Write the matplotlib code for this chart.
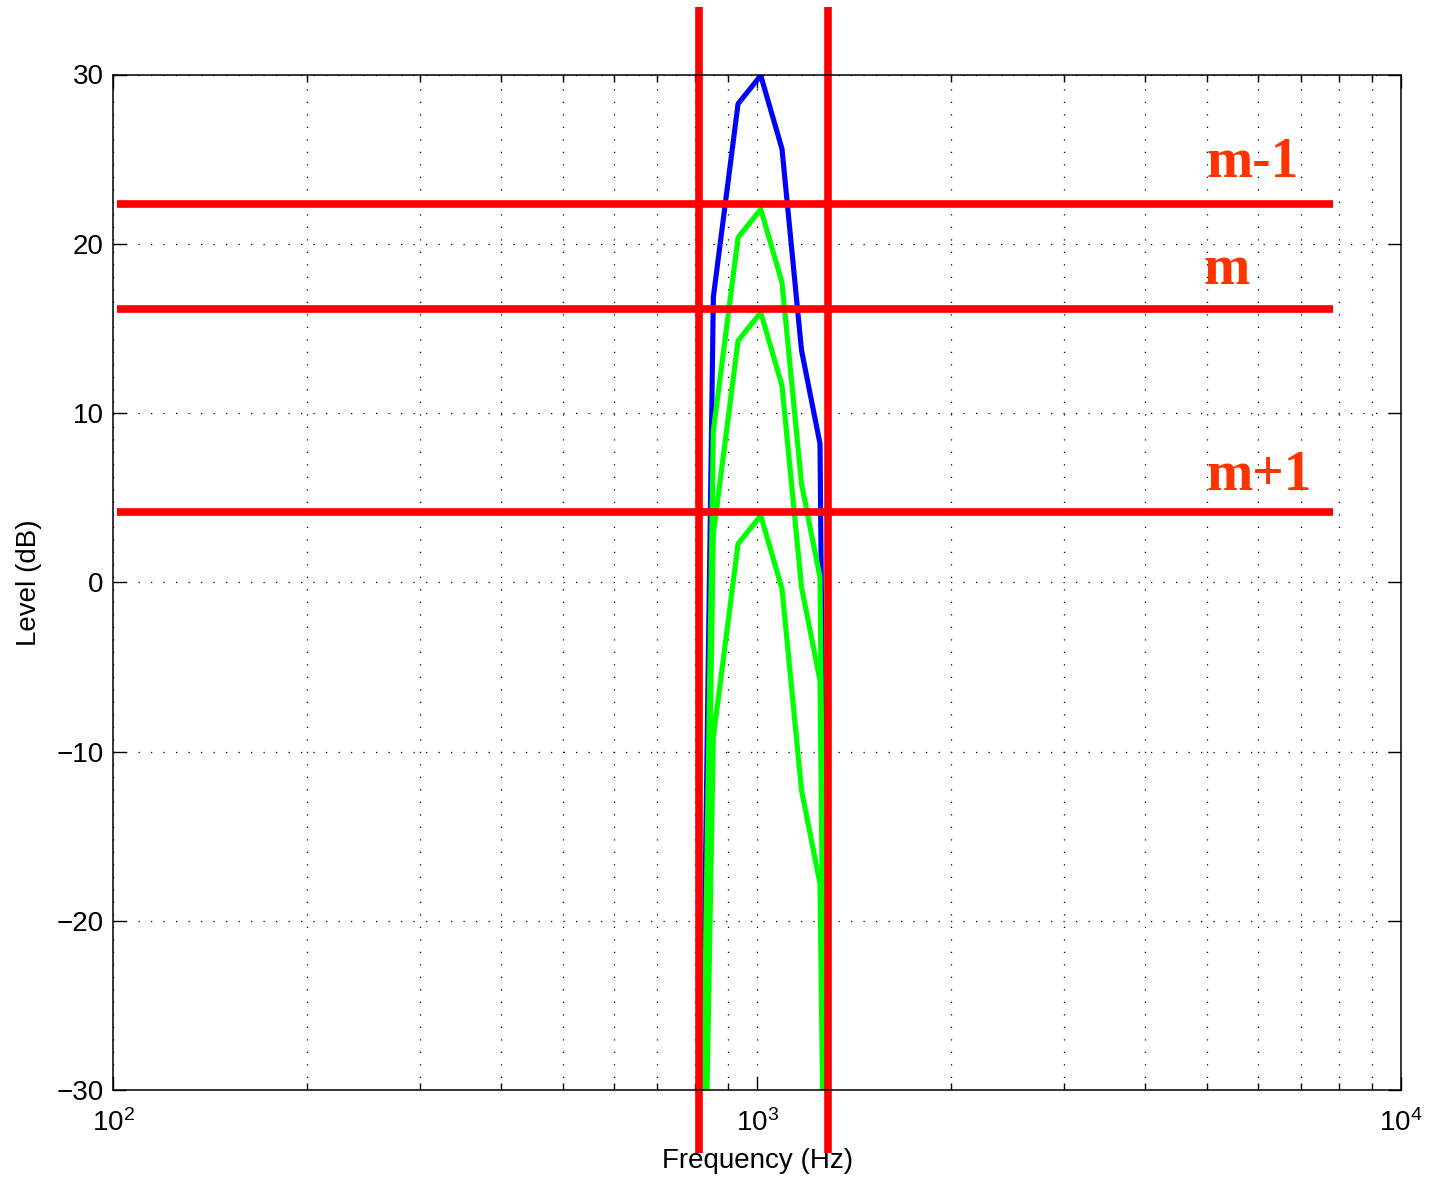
import matplotlib
matplotlib.use("Agg")
import matplotlib.pyplot as plt
from matplotlib.ticker import LogLocator, NullFormatter

# ---- data ----
freq = [775, 855, 934, 1013, 1093, 1172, 1252, 1331]
blue_level = [-100, 16.85, 28.27, 29.94, 25.6, 13.7, 8.19, -100]
green1_level = [-100, 8.95, 20.37, 22.04, 17.7, 5.8, 0.29, -100]
green2_level = [-100, 2.85, 14.27, 15.94, 11.6, -0.3, -5.81, -100]
green3_level = [-100, -9.15, 2.27, 3.94, -0.4, -12.3, -17.81, -100]

band_edges = [812, 1288]            # vertical red lines (Hz)
band_span = [-33.7, 34.0]           # vertical extent (dB)
thresholds = [22.32, 16.12, 4.14]   # horizontal red lines (dB)
thr_span = [101.3, 7844]            # horizontal extent (Hz)
thr_labels = ["m-1", "m", "m+1"]
label_x = [4980, 4940, 4995]
label_y = [23.93, 17.64, 5.43]

yticks = [-30, -20, -10, 0, 10, 20, 30]

plt.rcParams['font.family'] = ['Liberation Sans', 'DejaVu Sans']
plt.rcParams['axes.unicode_minus'] = True
plt.rcParams['mathtext.fontset'] = 'custom'
plt.rcParams['mathtext.rm'] = 'Liberation Sans'

fig = plt.figure(figsize=(14.31, 11.77), dpi=100)
ax = fig.add_axes([113.3 / 1431, (1177 - 1090) / 1177, (1401 - 113.3) / 1431, (1090 - 74.5) / 1177])

ax.set_xscale('log')
ax.set_xlim(100, 10000)
ax.set_ylim(-30, 30)

grid_kw = dict(color='black', linestyle=(0, (1, 9)), linewidth=0.9)
ax.grid(True, which='major', axis='both', **grid_kw)
ax.grid(True, which='minor', axis='x', **grid_kw)
ax.set_axisbelow(True)

ax.plot(freq, blue_level, color=(0, 0, 1), lw=3.7, zorder=3)
for g in (green1_level, green2_level, green3_level):
    ax.plot(freq, g, color=(0, 1, 0), lw=3.7, zorder=3)

for t in thresholds:
    ax.plot(thr_span, [t, t], color=(1, 0, 0), lw=5.5, solid_capstyle='butt', zorder=4)
for e in band_edges:
    ax.plot([e, e], band_span, color=(1, 0, 0), lw=5.5, solid_capstyle='butt',
            clip_on=False, zorder=5)

for txt, x, y in zip(thr_labels, label_x, label_y):
    ax.text(x, y, txt, color='#ff3300', fontsize=40, fontweight='bold',
            family=['Liberation Serif', 'DejaVu Serif'], ha='left', va='baseline', zorder=6)

ax.set_yticks(yticks)
ax.xaxis.set_major_locator(LogLocator(base=10, numticks=10))
ax.xaxis.set_minor_locator(LogLocator(base=10, subs=range(2, 10), numticks=20))
ax.xaxis.set_minor_formatter(NullFormatter())

ax.tick_params(which='both', direction='in', top=True, right=True, labelsize=20, width=1.0)
ax.tick_params(which='major', length=9.4)
ax.tick_params(which='minor', length=4.7)
ax.tick_params(axis='y', pad=7)
ax.tick_params(axis='x', pad=14)
for s in ax.spines.values():
    s.set_linewidth(1.1)
    s.set_zorder(7)

ax.set_xlabel('Frequency (Hz)', fontsize=20, labelpad=8)
ax.set_ylabel('Level (dB)', fontsize=20, labelpad=10)

fig.savefig('out.png', dpi=100)
